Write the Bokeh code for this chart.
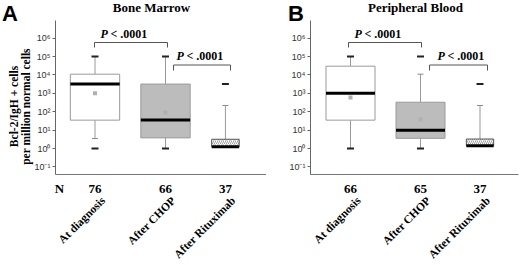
from math import pi
from bokeh.plotting import figure
from bokeh.layouts import row
from bokeh.models import FixedTicker, Label, LabelSet, ColumnDataSource
from bokeh.embed import file_html
from bokeh.resources import INLINE

# ---------------- data ----------------
categories = ["At diagnosis", "After CHOP", "After Rituximab"]

# Panel A: Bone Marrow
a_n = ["76", "66", "37"]
a_q1 = [35, 3.8, 1.25]
a_median = [3200, 36, 1.25]
a_q3 = [11000, 3200, 3.2]
a_low = [3.5, 1, 1.25]
a_high = [100000, 100000, 220]
a_mean = [1000, 90]
a_ext_group = [0, 0, 1, 1, 2]
a_ext_value = [1, 100000, 1, 100000, 3200]

# Panel B: Peripheral Blood
b_n = ["66", "65", "37"]
b_q1 = [35, 3.6, 1.4]
b_median = [1000, 10, 1.4]
b_q3 = [30000, 330, 3.3]
b_low = [1, 1, 1.4]
b_high = [100000, 11000, 220]
b_mean = [600, 38]
b_ext_group = [0, 0, 1, 1, 2]
b_ext_value = [1, 100000, 1, 100000, 3200]

y_tick_values = [0.1, 1, 10, 100, 1000, 10000, 100000, 1000000]
y_tick_labels = ["10⁻¹", "10⁰", "10¹", "10²", "10³", "10⁴", "10⁵", "10⁶"]
p_label = ("P", "< .0001")

# ---------------- layout / style ----------------
positions = [1.0, 2.0, 2.85]
box_widths = [0.7, 0.7, 0.39]
box_fills = ["white", "#bcbcbc", "white"]
box_lines = ["#9a9a9a", "#9a9a9a", "#555555"]
box_hatch = [None, None, "/"]
SERIF = "Liberation Serif"
SANS = "Liberation Sans"

CANVAS_H = 265
AX_TOP, AX_BOTTOM = 20, 174          # pixel rows of the plotted region
LOG_AT_TOP, LOG_AT_BOTTOM = 6.96, -1.41


def ylog(py):
    return 10 ** (LOG_AT_TOP - (py - AX_TOP) / (AX_BOTTOM - AX_TOP) * (LOG_AT_TOP - LOG_AT_BOTTOM))


def make_panel(canvas_l, canvas_r, pos0_px, unit_px, ax_l, ax_r,
               q1, med, q3, lo, hi, mean, ext_g, ext_v, nlab):
    def xd(px):
        return 1 + (px - pos0_px) / unit_px

    p = figure(width=canvas_r - canvas_l, height=CANVAS_H, y_axis_type="log",
               x_range=(xd(canvas_l), xd(canvas_r)),
               y_range=(ylog(CANVAS_H), ylog(0)),
               output_backend="svg", toolbar_location=None,
               min_border_left=0, min_border_right=0,
               min_border_top=0, min_border_bottom=0)
    p.outline_line_color = None
    p.grid.visible = False

    # axes (drawn at fixed locations inside the canvas)
    p.yaxis.fixed_location = xd(ax_l)
    p.yaxis.bounds = (ylog(AX_BOTTOM), ylog(AX_TOP))
    p.yaxis.ticker = FixedTicker(ticks=y_tick_values, minor_ticks=[])
    p.yaxis.major_label_overrides = {v: t for v, t in zip(y_tick_values, y_tick_labels)}
    p.yaxis.major_label_text_font = SANS
    p.yaxis.major_label_text_font_size = "9px"
    p.yaxis.major_label_text_color = "#333333"
    p.yaxis.major_label_standoff = 2
    p.yaxis.major_tick_out = 3
    p.yaxis.major_tick_in = 0
    p.yaxis.minor_tick_line_color = None
    p.yaxis.axis_line_color = "#666666"
    p.yaxis.major_tick_line_color = "#666666"

    p.xaxis.fixed_location = ylog(AX_BOTTOM)
    p.xaxis.bounds = (xd(ax_l), xd(ax_r))
    p.xaxis.ticker = FixedTicker(ticks=[])
    p.xaxis.major_tick_line_color = None
    p.xaxis.minor_tick_line_color = None
    p.xaxis.axis_line_color = "#777777"

    src = ColumnDataSource(dict(x=positions, w=box_widths, q1=q1, q3=q3, med=med,
                                lo=lo, hi=hi, fill=box_fills, line=box_lines,
                                hatch=[h if h else " " for h in box_hatch],
                                xl=[x - w / 2 for x, w in zip(positions, box_widths)],
                                xr=[x + w / 2 for x, w in zip(positions, box_widths)],
                                cat=categories, n=nlab))
    # whiskers
    p.segment(x0="x", y0="q3", x1="x", y1="hi", source=src, line_color="#9a9a9a", line_width=1)
    p.segment(x0="x", y0="q1", x1="x", y1="lo", source=src, line_color="#9a9a9a", line_width=1)
    p.scatter(x="x", y="hi", source=src, marker="dash", size=6, line_color="#888888", line_width=1)
    p.scatter(x="x", y="lo", source=src, marker="dash", size=6, line_color="#888888", line_width=1)
    # boxes
    p.vbar(x="x", width="w", bottom="q1", top="q3", source=src, fill_color="fill",
           line_color="line", line_width=1, hatch_pattern="hatch", hatch_color="#777777",
           hatch_scale=4, hatch_weight=0.7)
    # medians
    p.segment(x0="xl", y0="med", x1="xr", y1="med", source=src, line_color="black", line_width=3)
    # means
    p.scatter(x=positions[:len(mean)], y=mean, marker="square", size=4,
              fill_color="#b0b0b0", line_color=None)
    # extreme values
    p.scatter(x=[positions[g] for g in ext_g], y=ext_v, marker="dash", size=7,
              line_color="#222222", line_width=2)

    # N row and category labels
    p.add_layout(LabelSet(x="x", y=ylog(188), text="n", source=src, text_align="center",
                          text_baseline="middle", text_font=SERIF, text_font_style="bold",
                          text_font_size="13px", text_color="black"))
    p.add_layout(LabelSet(x="x", y=ylog(198), text="cat", source=src, text_align="right",
                          text_baseline="middle", angle=pi / 4, x_offset=8, text_font=SERIF,
                          text_font_style="bold", text_font_size="11.5px", text_color="black"))
    return p, xd


def add_bracket(p, xd, x_left_px, x_right_px, top_py, leg_py, text_px, text_py):
    p.line(x=[xd(x_left_px), xd(x_left_px), xd(x_right_px), xd(x_right_px)],
           y=[ylog(leg_py), ylog(top_py), ylog(top_py), ylog(leg_py)],
           line_color="#555555", line_width=1)
    p.add_layout(Label(x=xd(text_px), y=ylog(text_py), text=p_label[0], text_align="left",
                       text_baseline="middle", text_font=SERIF, text_font_style="bold italic",
                       text_font_size="12px", text_color="black"))
    p.add_layout(Label(x=xd(text_px + 10), y=ylog(text_py), text=p_label[1], text_align="left",
                       text_baseline="middle", text_font=SERIF, text_font_style="bold",
                       text_font_size="12px", text_color="black"))


def add_text(p, xd, px, py, txt, font, size, style="bold", angle=0.0):
    p.add_layout(Label(x=xd(px), y=ylog(py), text=txt, text_align="center",
                       text_baseline="middle", text_font=font, text_font_style=style,
                       text_font_size=size, text_color="black", angle=angle))


# Panel A (canvas x 0..266)
pA, xA = make_panel(0, 266, 94.5, 70.5, 55, 266,
                    a_q1, a_median, a_q3, a_low, a_high, a_mean, a_ext_group, a_ext_value, a_n)
add_bracket(pA, xA, 94, 167, 42, 47, 100, 33)
add_bracket(pA, xA, 173, 230, 64.5, 70, 176, 55.5)
add_text(pA, xA, 9.5, 13, "A", SANS, "22px")
add_text(pA, xA, 151, 7, "Bone Marrow", SERIF, "13px")
add_text(pA, xA, 59, 188, "N", SERIF, "13px")
add_text(pA, xA, 13, 106, "Bcl-2/IgH + cells", SERIF, "11.5px", angle=pi / 2)
add_text(pA, xA, 25, 106, "per million normal cells", SERIF, "11.5px", angle=pi / 2)

# Panel B (canvas x 266..520)
pB, xB = make_panel(266, 520, 350, 70, 310, 518,
                    b_q1, b_median, b_q3, b_low, b_high, b_mean, b_ext_group, b_ext_value, b_n)
add_bracket(pB, xB, 348, 421, 42, 47, 354, 33)
add_bracket(pB, xB, 429, 487, 64.5, 70, 437, 55.5)
add_text(pB, xB, 295.5, 13, "B", SANS, "22px")
add_text(pB, xB, 415, 7, "Peripheral Blood", SERIF, "13px")

layout = row(pA, pB)
open("out.html", "w").write(file_html(layout, INLINE))
